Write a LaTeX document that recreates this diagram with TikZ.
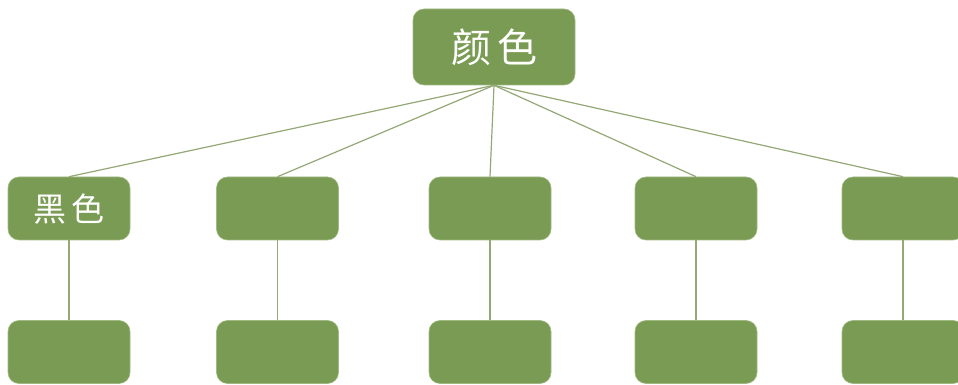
\documentclass[tikz,border=0pt]{standalone}
\usepackage{fontspec}
\newfontfamily\cjk{Noto Sans CJK SC}
\usetikzlibrary{positioning}
\definecolor{boxgreen}{RGB}{121,155,83}
\definecolor{boxedge}{RGB}{160,186,130}
\definecolor{linkgreen}{RGB}{148,168,118}

\begin{document}
\begin{tikzpicture}[x=1pt,y=1pt,semithick]
  \tikzstyle{every node}=[font=\cjk,text=white]
  \tikzstyle{colorbox}=[rectangle,rounded corners=11pt,fill=boxgreen,draw=boxedge,
                        line width=0.6pt,minimum width=122pt,minimum height=63pt,inner sep=0pt]
  \tikzstyle{link}=[draw=linkgreen,line width=1.2pt]

  \useasboundingbox (0,0) rectangle (958,385);

  \node[colorbox,minimum width=162pt,minimum height=76pt,font=\cjk\fontsize{40}{44}\selectfont]
                                  (root)  at (494,338)  {颜\hspace{6pt}色};

  \node[colorbox,font=\cjk\fontsize{33}{38}\selectfont]
                                  (c1)    at (69,176.5)     {黑\hspace{5pt}色};
  \node[colorbox]                 (c2)    at (277.5,176.5)  {};
  \node[colorbox]                 (c3)    at (490,176.5)    {};
  \node[colorbox]                 (c4)    at (696,176.5)    {};
  \node[colorbox]                 (c5)    at (903,176.5)    {};

  \node[colorbox]                 (d1)    at (69,33)        {};
  \node[colorbox]                 (d2)    at (277.5,33)     {};
  \node[colorbox]                 (d3)    at (490,33)       {};
  \node[colorbox]                 (d4)    at (696,33)       {};
  \node[colorbox]                 (d5)    at (903,33)       {};

  \path[link] (root.south) -- (c1.north);
  \path[link] (root.south) -- (c2.north);
  \path[link] (root.south) -- (c3.north);
  \path[link] (root.south) -- (c4.north);
  \path[link] (root.south) -- (c5.north);

  \path[link] (c1.south) -- (d1.north);
  \path[link] (c2.south) -- (d2.north);
  \path[link] (c3.south) -- (d3.north);
  \path[link] (c4.south) -- (d4.north);
  \path[link] (c5.south) -- (d5.north);

\end{tikzpicture}
\end{document}
